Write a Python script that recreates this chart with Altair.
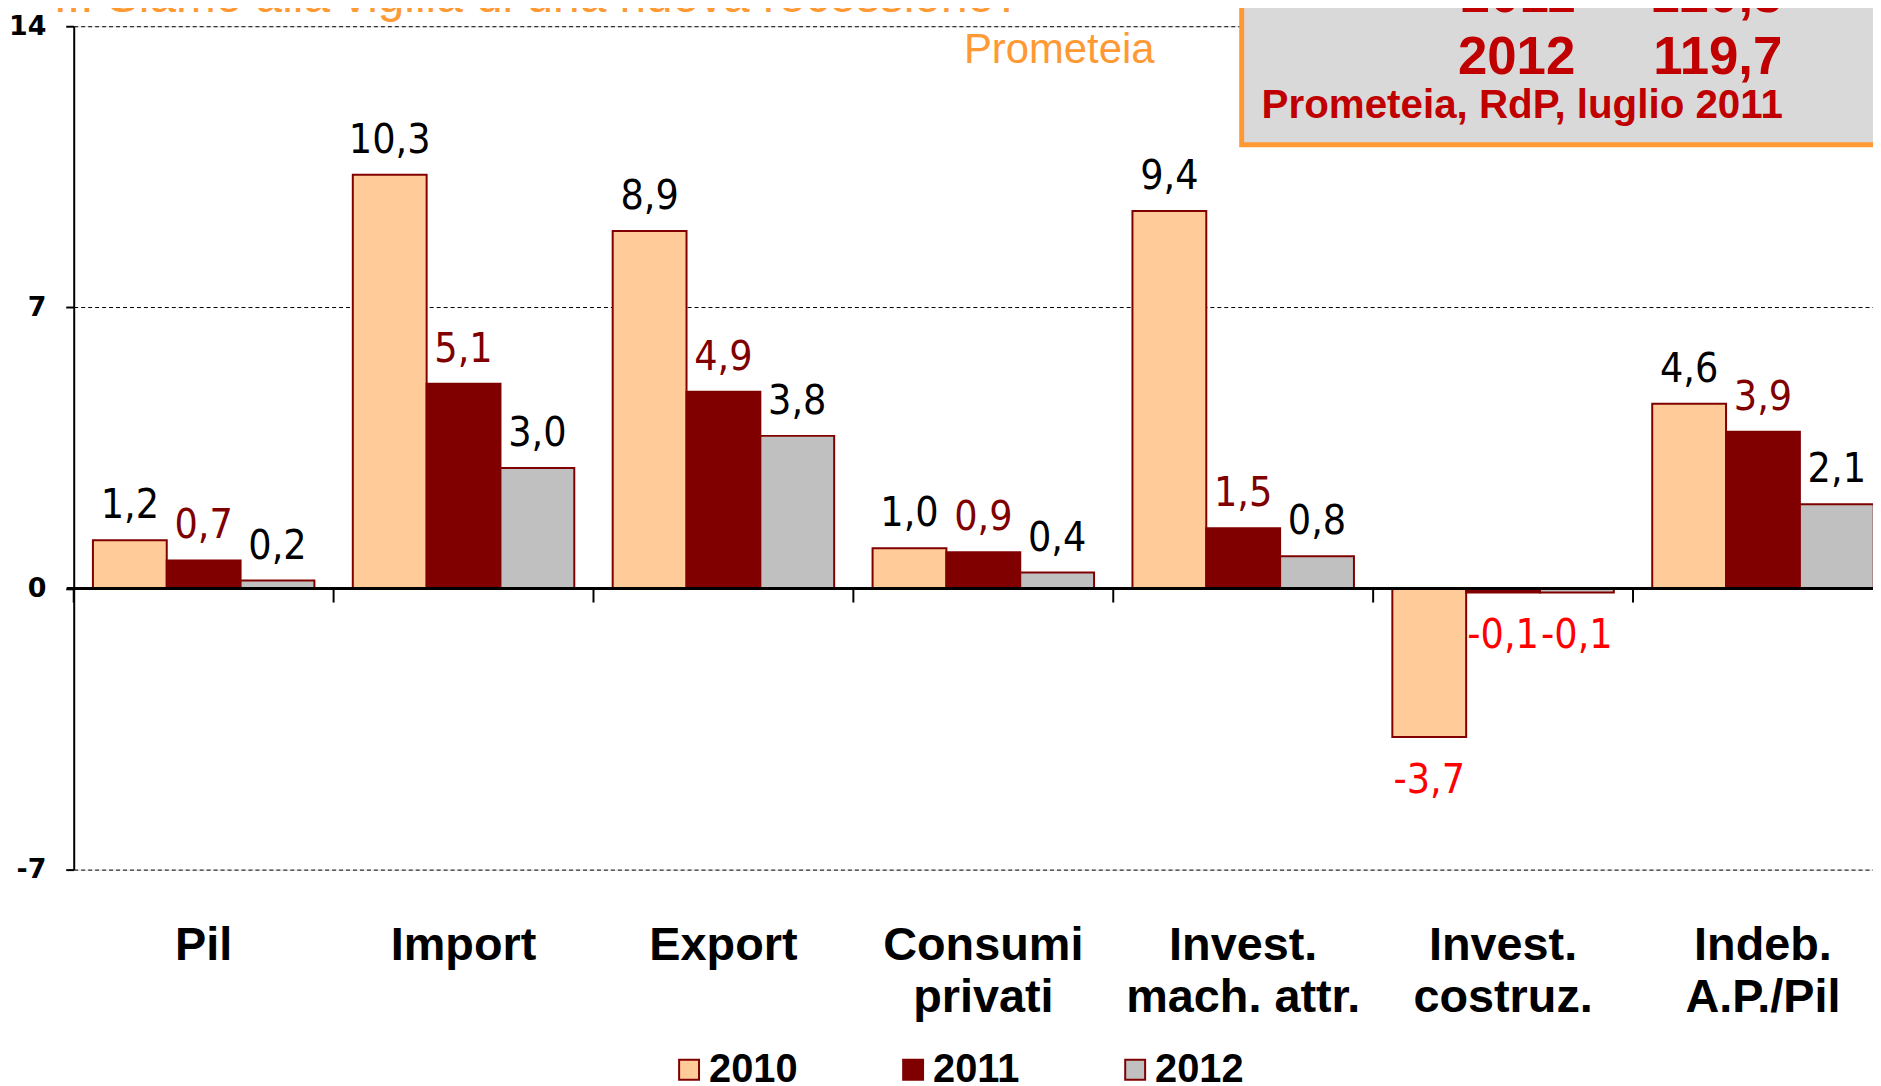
import altair as alt
import pandas as pd

# ---------------- data ----------------
categories = ["Pil", "Import", "Export", "Consumi\nprivati", "Invest.\nmach. attr.",
              "Invest.\ncostruz.", "Indeb.\nA.P./Pil"]
years = ["2010", "2011", "2012"]
values_2010 = [1.2, 10.3, 8.9, 1.0, 9.4, -3.7, 4.6]
values_2011 = [0.7, 5.1, 4.9, 0.9, 1.5, -0.1, 3.9]
values_2012 = [0.2, 3.0, 3.8, 0.4, 0.8, -0.1, 2.1]
y_ticks = [-7, 0, 7, 14]

box_years = ["2011", "2012"]
box_values = ["120,3", "119,7"]
title_text = "... Siamo alla vigilia di una nuova recessione?"
source_text = "Prometeia"
box_source = "Prometeia, RdP, luglio 2011"

rows = []
for yr, vals in zip(years, [values_2010, values_2011, values_2012]):
    for c, v in zip(categories, vals):
        rows.append({"cat": c, "year": yr, "value": v})
df = pd.DataFrame(rows)
cat_df = pd.DataFrame({"cat": categories})

# ---------------- styles ----------------
W, H = 1807, 847
STEP = 261
NARROW = "Liberation Sans Narrow, Arial Narrow, DejaVu Sans Condensed, sans-serif"
ARIAL = "Liberation Sans, Arial, sans-serif"
DARK = "#800000"

xscale = alt.Scale(domain=categories, range=[0, STEP * len(categories)],
                   paddingInner=0, paddingOuter=0)
yscale = alt.Scale(domain=[-7, 14], nice=False, zero=False)
off_scale = alt.Scale(domain=years, paddingOuter=0.26, paddingInner=0)

X = alt.X("cat:N", scale=xscale, axis=None, sort=categories)
Y = alt.Y("value:Q", scale=yscale, axis=alt.Axis(
    values=y_ticks, title=None,
    labelExpr="datum.value < 0 ? '-' + abs(datum.value) : '' + datum.value",
    labelFont="DejaVu Sans", labelFontWeight="bold", labelFontSize=27,
    labelColor="black", labelPadding=20,
    tickSize=8, tickColor="black", tickWidth=2,
    domainColor="black", domainWidth=2,
    grid=True, gridColor="black", gridDash=[4, 3], gridWidth=1, gridOpacity=1))

base = alt.Chart(df)

bars = base.mark_bar(stroke=DARK, strokeWidth=2).encode(
    x=X,
    xOffset=alt.XOffset("year:N", scale=off_scale),
    y=Y,
    y2=alt.datum(0),
    fill=alt.Fill("year:N",
                  scale=alt.Scale(domain=years, range=["#FFCC99", DARK, "#C0C0C0"]),
                  legend=alt.Legend(
                      title=None, orient="none", legendX=598, legendY=1028,
                      direction="horizontal", symbolType="square", symbolSize=400,
                      symbolStrokeColor=DARK, symbolStrokeWidth=2,
                      labelFont=ARIAL, labelFontWeight="bold", labelFontSize=40,
                      labelColor="black", labelOffset=0, columnPadding=96)),
)

lbl_calc = dict(
    lbl="(datum.value < 0 ? '-' : '') + replace(format(abs(datum.value), '.1f'), '.', ',')",
    lcol="datum.value < 0 ? '#FF0000' : (datum.year == '2011' ? '#800000' : '#000000')",
)

pos_labels = base.transform_filter("datum.value >= 0").transform_calculate(**lbl_calc).mark_text(
    font=NARROW, fontSize=41, baseline="alphabetic", align="center", dy=-22
).encode(x=X, xOffset=alt.XOffset("year:N", scale=off_scale), y=alt.Y("value:Q", scale=yscale),
         text="lbl:N", color=alt.Color("lcol:N", scale=None))

neg_labels = base.transform_filter("datum.value < 0").transform_calculate(**lbl_calc).mark_text(
    font=NARROW, fontSize=41, baseline="alphabetic", align="center", dy=56
).encode(x=X, xOffset=alt.XOffset("year:N", scale=off_scale), y=alt.Y("value:Q", scale=yscale),
         text="lbl:N", color=alt.Color("lcol:N", scale=None))

zero_line = alt.Chart(alt.Data(values=[{}])).mark_rule(color="black", strokeWidth=3).encode(
    y=alt.datum(0, scale=yscale), x=alt.value(-7), x2=alt.value(W))

cat_ticks = alt.Chart(cat_df).mark_rule(color="black", strokeWidth=2).encode(
    x=alt.X("cat:N", scale=xscale, axis=None, bandPosition=0, sort=categories),
    y=alt.datum(0, scale=yscale), y2=alt.datum(-0.35))

cat_labels = alt.Chart(cat_df).mark_text(
    font=ARIAL, fontWeight="bold", fontSize=47, lineBreak="\n", lineHeight=52,
    baseline="alphabetic", align="center", dy=91, color="black"
).encode(x=alt.X("cat:N", scale=xscale, axis=None, sort=categories),
         y=alt.datum(-7, scale=yscale), text="cat:N")

one = alt.Data(values=[{}])
box = alt.Chart(one).mark_rect(fill="#D9D9D9", stroke="#FF9933", strokeWidth=5).encode(
    x=alt.value(1173), x2=alt.value(1840), y=alt.value(-60), y2=alt.value(119))

annots = [
    alt.Chart(one).mark_text(text=title_text, font=ARIAL, fontSize=48, color="#FF9933",
                             align="left", baseline="alphabetic").encode(
        x=alt.value(-20), y=alt.value(-14)),
    alt.Chart(one).mark_text(text=source_text, font=ARIAL, fontSize=42, color="#FF9933",
                             align="left", baseline="alphabetic").encode(
        x=alt.value(894), y=alt.value(37)),
    alt.Chart(one).mark_text(text=box_source, font=ARIAL, fontWeight="bold", fontSize=40.5,
                             color="#C00000", align="left", baseline="alphabetic").encode(
        x=alt.value(1193), y=alt.value(92)),
]
for yr, val, yy in zip(box_years, box_values, [-14, 48]):
    annots.append(alt.Chart(one).mark_text(text=yr, font=ARIAL, fontWeight="bold", fontSize=53,
                                           color="#C00000", align="right", baseline="alphabetic")
                  .encode(x=alt.value(1508), y=alt.value(yy)))
    annots.append(alt.Chart(one).mark_text(text=val, font=ARIAL, fontWeight="bold", fontSize=53,
                                           color="#C00000", align="right", baseline="alphabetic")
                  .encode(x=alt.value(1716), y=alt.value(yy)))

chart = alt.layer(
    bars, zero_line, cat_ticks, pos_labels, neg_labels, cat_labels, box, *annots
).properties(
    width=W, height=H,
    autosize=alt.AutoSizeParams(type="none"),
    padding={"left": 66, "top": 16, "right": 0, "bottom": 215},
).configure_view(stroke=None).configure(background="white")

chart.save("out.html", embed_options={"renderer": "svg", "actions": False})
